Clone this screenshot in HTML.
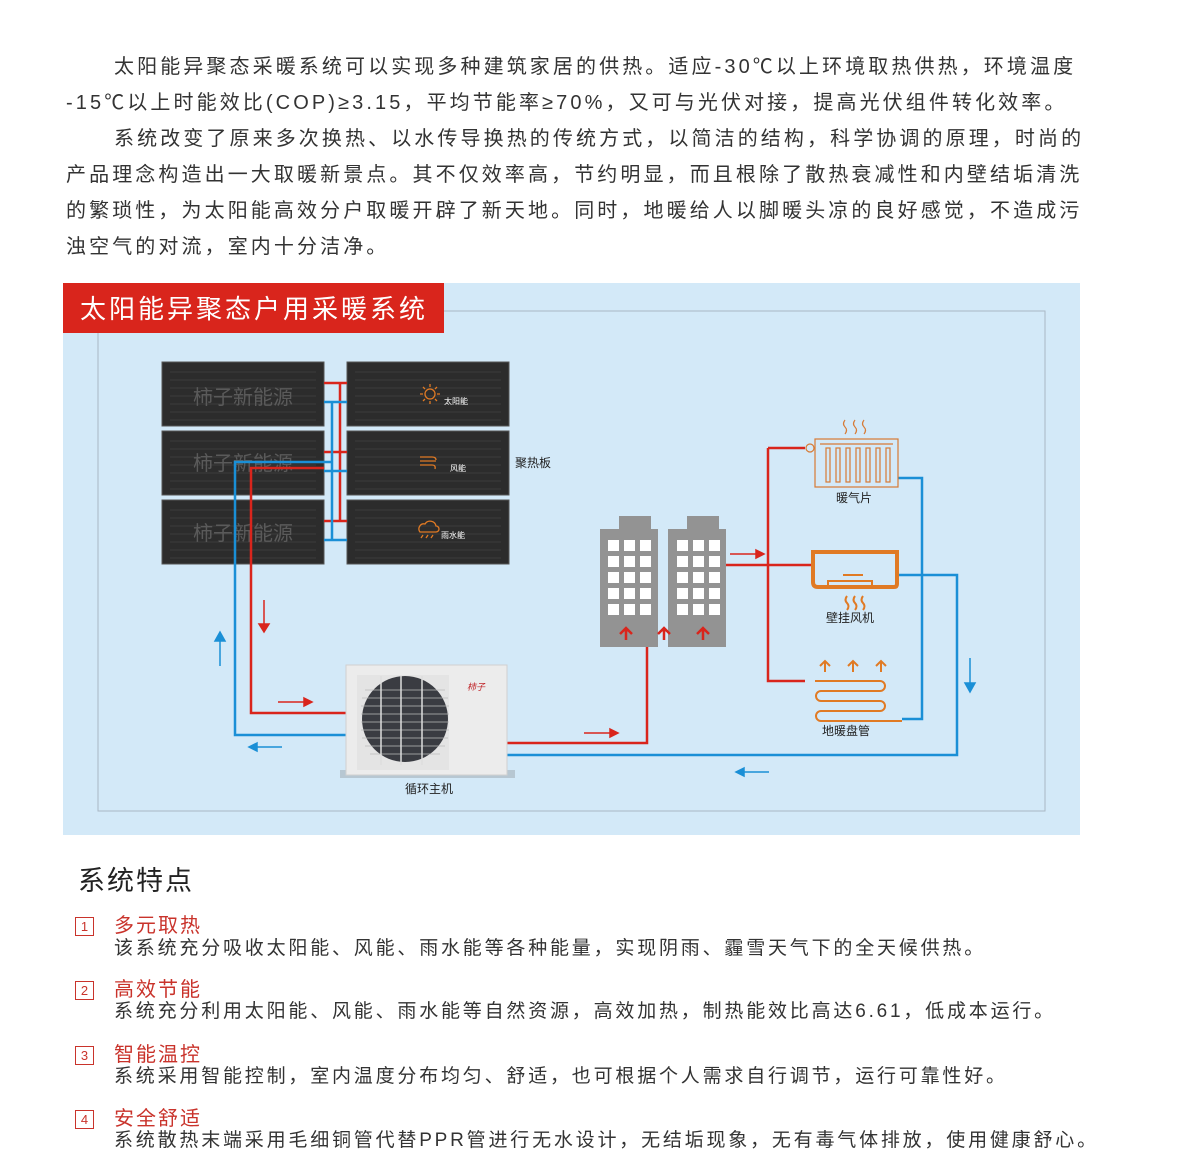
<!DOCTYPE html>
<html><head><meta charset="utf-8"><style>
body{margin:0;width:1200px;height:1168px;background:#fff;position:relative;overflow:hidden;font-family:"Liberation Sans","Noto Sans CJK SC",sans-serif;color:#333}
.p{position:absolute;left:66px;font-size:20px;letter-spacing:3.1px;white-space:nowrap;line-height:36px}
.t{position:absolute;white-space:nowrap}
.num{position:absolute;left:75px;width:17px;height:17px;border:1.5px solid #c9332b;color:#c9332b;font-size:13px;line-height:17px;text-align:center}
.h{position:absolute;left:114px;color:#c9332b;font-size:20px;letter-spacing:2px;line-height:22px}
.d{position:absolute;left:114px;font-size:19px;letter-spacing:2.8px;line-height:22px;color:#333;white-space:nowrap}
</style></head><body>
<div class="p" style="top:49px;left:114px">太阳能异聚态采暖系统可以实现多种建筑家居的供热。适应-30℃以上环境取热供热，环境温度</div>
<div class="p" style="top:85px">-15℃以上时能效比(COP)≥3.15，平均节能率≥70%，又可与光伏对接，提高光伏组件转化效率。</div>
<div class="p" style="top:121px;left:114px">系统改变了原来多次换热、以水传导换热的传统方式，以简洁的结构，科学协调的原理，时尚的</div>
<div class="p" style="top:157px">产品理念构造出一大取暖新景点。其不仅效率高，节约明显，而且根除了散热衰减性和内壁结垢清洗</div>
<div class="p" style="top:193px">的繁琐性，为太阳能高效分户取暖开辟了新天地。同时，地暖给人以脚暖头凉的良好感觉，不造成污</div>
<div class="p" style="top:229px">浊空气的对流，室内十分洁净。</div>

<svg style="position:absolute;left:0;top:0" width="1200" height="1168" font-family="Liberation Sans,Noto Sans CJK SC,sans-serif">
<rect x="63" y="283" width="1017" height="552" fill="#d3e9f8"/>
<rect x="98" y="311" width="947" height="500" fill="none" stroke="#aab8c4" stroke-width="1"/>
<rect x="63" y="283" width="381" height="50" fill="#d9251c"/>
<text x="80" y="318" fill="#fff" font-size="26" letter-spacing="3">太阳能异聚态户用采暖系统</text>
<g fill="#2c2c2c" stroke="#555" stroke-width="1">
<rect x="162" y="362" width="162" height="64"/><rect x="162" y="431" width="162" height="64"/><rect x="162" y="500" width="162" height="64"/>
<rect x="347" y="362" width="162" height="64"/><rect x="347" y="431" width="162" height="64"/><rect x="347" y="500" width="162" height="64"/>
</g>
<g stroke="#3d3d3d" fill="none" stroke-width="1">
<path d="M170 372h146M170 380h146M170 388h146M170 396h146M170 404h146M170 412h146M170 420h146"/>
<path d="M170 441h146M170 449h146M170 457h146M170 465h146M170 473h146M170 481h146M170 489h146"/>
<path d="M170 510h146M170 518h146M170 526h146M170 534h146M170 542h146M170 550h146M170 558h146"/>
<path d="M355 372h146M355 380h146M355 388h146M355 396h146M355 404h146M355 412h146M355 420h146"/>
<path d="M355 441h146M355 449h146M355 457h146M355 465h146M355 473h146M355 481h146M355 489h146"/>
<path d="M355 510h146M355 518h146M355 526h146M355 534h146M355 542h146M355 550h146M355 558h146"/>
</g>
<g fill="#5a5a5a" font-size="20"><text x="193" y="404">柿子新能源</text><text x="193" y="470">柿子新能源</text><text x="193" y="540">柿子新能源</text></g>
<g fill="#fff" font-size="8"><text x="444" y="404">太阳能</text><text x="450" y="471">风能</text><text x="441" y="538">雨水能</text></g>
<g stroke="#e07a24" fill="none" stroke-width="1.3"><circle cx="430" cy="394" r="5"/><path d="M430 384v3M430 401v3M420 394h3M437 394h3M423 387l2 2M437 387l-2 2M423 401l2-2M437 401l-2-2"/>
<path d="M420 457h12q4 0 4 3M420 461h16M420 465h12q4 0 3 4"/>
<path d="M420 532a5 5 0 0 1 5-8a6 6 0 0 1 11 2a3 3 0 0 1 0 6zM423 535l-2 3M428 535l-2 3M433 535l-2 3"/></g>
<text x="515" y="467" font-size="12" fill="#222">聚热板</text>
<g stroke="#d9251c" stroke-width="2.5" fill="none">
<path d="M324 383H347M324 452H347M324 521H347M340 383V521"/>
<path d="M324 468H251V713H346"/>
<path d="M507 743H647V645"/>
<path d="M726 565H768M768 448V681H805M768 448H805M768 565H812"/>
</g>
<g stroke="#1a8fd6" stroke-width="2.5" fill="none">
<path d="M324 402H347M324 471H347M324 540H347M332 402V540"/>
<path d="M332 462H235V735H346"/>
<path d="M507 755H957V575H898"/>
<path d="M898 478H922V719H902"/>
</g>
<g fill="#d9251c" stroke="#d9251c" stroke-width="1.5">
<path d="M264 600V625" fill="none"/><path d="M259 624l5 8 5-8z"/>
<path d="M278 702H305" fill="none"/><path d="M304 698l8 4-8 4z"/>
<path d="M584 733H611" fill="none"/><path d="M610 729l8 4-8 4z"/>
<path d="M730 554H757" fill="none"/><path d="M756 550l8 4-8 4z"/>
</g>
<g fill="#1a8fd6" stroke="#1a8fd6" stroke-width="1.5">
<path d="M220 666V640" fill="none"/><path d="M215 641l5-9 5 9z"/>
<path d="M282 747H256" fill="none"/><path d="M257 743l-8 4 8 4z"/>
<path d="M769 772H743" fill="none"/><path d="M744 768l-8 4 8 4z"/>
<path d="M970 658V684" fill="none"/><path d="M965 683l5 9 5-9z"/>
</g>
<g fill="#939393"><rect x="600" y="529" width="58" height="118"/><rect x="619" y="516" width="32" height="14"/>
<rect x="668" y="529" width="58" height="118"/><rect x="687" y="516" width="32" height="14"/></g>
<g fill="#fff">
<rect x="608" y="540" width="11" height="11"/><rect x="624" y="540" width="11" height="11"/><rect x="640" y="540" width="11" height="11"/>
<rect x="608" y="556" width="11" height="11"/><rect x="624" y="556" width="11" height="11"/><rect x="640" y="556" width="11" height="11"/>
<rect x="608" y="572" width="11" height="11"/><rect x="624" y="572" width="11" height="11"/><rect x="640" y="572" width="11" height="11"/>
<rect x="608" y="588" width="11" height="11"/><rect x="624" y="588" width="11" height="11"/><rect x="640" y="588" width="11" height="11"/>
<rect x="608" y="604" width="11" height="11"/><rect x="624" y="604" width="11" height="11"/><rect x="640" y="604" width="11" height="11"/>
<rect x="677" y="540" width="11" height="11"/><rect x="693" y="540" width="11" height="11"/><rect x="709" y="540" width="11" height="11"/>
<rect x="677" y="556" width="11" height="11"/><rect x="693" y="556" width="11" height="11"/><rect x="709" y="556" width="11" height="11"/>
<rect x="677" y="572" width="11" height="11"/><rect x="693" y="572" width="11" height="11"/><rect x="709" y="572" width="11" height="11"/>
<rect x="677" y="588" width="11" height="11"/><rect x="693" y="588" width="11" height="11"/><rect x="709" y="588" width="11" height="11"/>
<rect x="677" y="604" width="11" height="11"/><rect x="693" y="604" width="11" height="11"/><rect x="709" y="604" width="11" height="11"/>
</g>
<g stroke="#d9251c" stroke-width="2.5" fill="none"><path d="M626 640v-12m-6 6l6-6 6 6M664 640v-12m-6 6l6-6 6 6M703 640v-12m-6 6l6-6 6 6"/></g>
<g stroke="#d77a35" fill="none" stroke-width="1.2">
<rect x="815" y="439" width="83" height="48"/><circle cx="810" cy="448" r="4"/><path d="M820 444h73"/>
<rect x="826" y="448" width="4" height="34"/><rect x="836" y="448" width="4" height="34"/><rect x="846" y="448" width="4" height="34"/><rect x="856" y="448" width="4" height="34"/><rect x="866" y="448" width="4" height="34"/><rect x="876" y="448" width="4" height="34"/><rect x="886" y="448" width="4" height="34"/>
<path d="M845 420q-3 4 0 7q3 3 0 7M855 420q-3 4 0 7q3 3 0 7M864 420q-3 4 0 7q3 3 0 7"/>
</g>
<text x="836" y="502" font-size="12" fill="#222">暖气片</text>
<g stroke="#e07a24" fill="none" stroke-width="4"><path d="M813 552H897V584Q897 587 894 587H818Q813 587 813 582Z"/></g>
<g stroke="#e07a24" fill="none" stroke-width="2"><path d="M828 585v-4h44v4M843 575h20M847 596q-3 4 0 7q3 3 0 7M855 596q-3 4 0 7q3 3 0 7M863 596q-3 4 0 7q3 3 0 7"/>
<path d="M825 672v-11m-5 5l5-5 5 5M853 672v-11m-5 5l5-5 5 5M881 672v-11m-5 5l5-5 5 5"/>
<path d="M815 681H880a5 5 0 0 1 0 10H821a5 5 0 0 0 0 10H880a5 5 0 0 1 0 10H821a5 5 0 0 0 0 10H902"/></g>
<text x="826" y="622" font-size="12" fill="#222">壁挂风机</text>
<text x="822" y="735" font-size="12" fill="#222">地暖盘管</text>
<rect x="340" y="770" width="175" height="8" fill="#b7c7d2"/>
<rect x="346" y="665" width="161" height="110" fill="#ececec" stroke="#d0d0d0"/>
<rect x="357" y="675" width="92" height="95" fill="#e4e4e4"/>
<circle cx="405" cy="719" r="43" fill="#3a3c42"/>
<g stroke="#bbb" stroke-width="0.8"><path d="M365 690h80M362 698h86M361 706h88M361 714h88M361 722h88M361 730h88M362 738h86M365 746h80M370 754h70"/></g>
<path d="M381 676V765M401 676V765M422 676V765" stroke="#ddd" stroke-width="1.5"/>
<text x="467" y="690" font-size="9" fill="#c0262a" font-style="italic">柿子</text>
<text x="405" y="793" font-size="12" fill="#222">循环主机</text>
</svg>

<div class="t" style="left:78px;top:859px;font-size:27px;letter-spacing:2px;color:#222">系统特点</div>
<div class="num" style="top:917px">1</div><div class="h" style="top:915px">多元取热</div>
<div class="d" style="top:938px">该系统充分吸收太阳能、风能、雨水能等各种能量，实现阴雨、霾雪天气下的全天候供热。</div>
<div class="num" style="top:981px">2</div><div class="h" style="top:979px">高效节能</div>
<div class="d" style="top:1001px">系统充分利用太阳能、风能、雨水能等自然资源，高效加热，制热能效比高达6.61，低成本运行。</div>
<div class="num" style="top:1046px">3</div><div class="h" style="top:1044px">智能温控</div>
<div class="d" style="top:1066px">系统采用智能控制，室内温度分布均匀、舒适，也可根据个人需求自行调节，运行可靠性好。</div>
<div class="num" style="top:1110px">4</div><div class="h" style="top:1108px">安全舒适</div>
<div class="d" style="top:1130px">系统散热末端采用毛细铜管代替PPR管进行无水设计，无结垢现象，无有毒气体排放，使用健康舒心。</div>
</body></html>
